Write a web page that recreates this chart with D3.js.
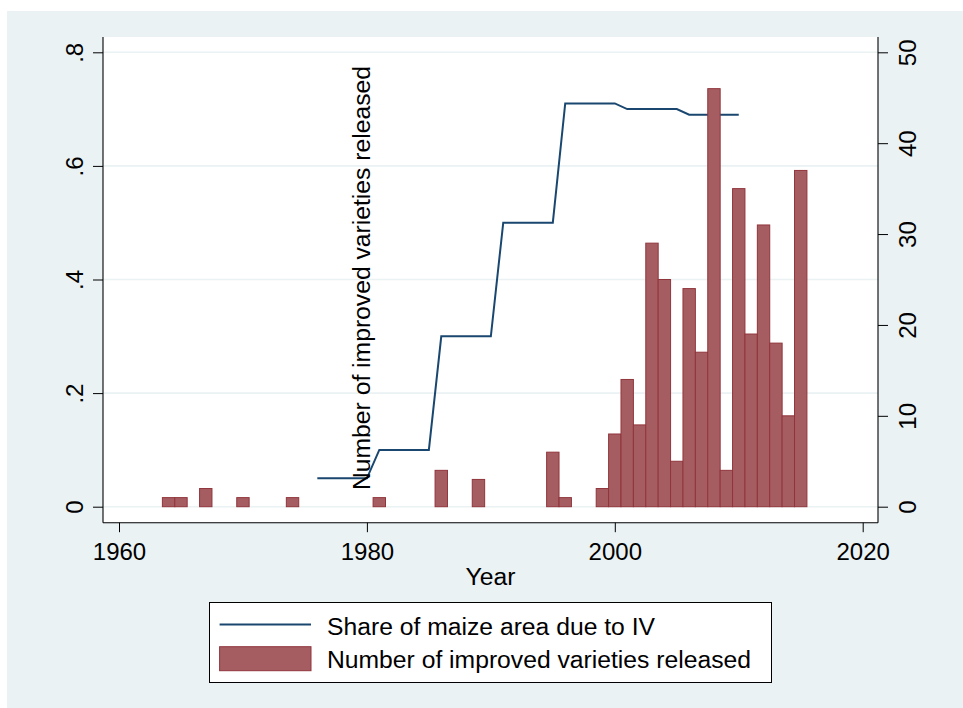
<!DOCTYPE html>
<html>
<head>
<meta charset="utf-8">
<script src="https://cdn.jsdelivr.net/npm/d3@7"></script>
<style>
  html, body { margin: 0; padding: 0; background: #ffffff; }
  svg { display: block; }
  text { font-family: "Liberation Sans", Arial, Helvetica, sans-serif; fill: #000; }
</style>
</head>
<body>
<div id="chart"></div>
<script>
// ---- Data ----
const barYears  = [1964, 1965, 1967, 1970, 1974, 1981, 1986, 1989, 1995, 1996,
                   1999, 2000, 2001, 2002, 2003, 2004, 2005, 2006, 2007, 2008,
                   2009, 2010, 2011, 2012, 2013, 2014, 2015];
const barCounts = [1, 1, 2, 1, 1, 1, 4, 3, 6, 1,
                   2, 8, 14, 9, 29, 25, 5, 24, 17, 46,
                   4, 35, 19, 31, 18, 10, 37];

const lineYears = [1976, 1977, 1978, 1979, 1980, 1981, 1982, 1983, 1984, 1985,
                   1986, 1987, 1988, 1989, 1990, 1991, 1992, 1993, 1994, 1995,
                   1996, 1997, 1998, 1999, 2000, 2001, 2002, 2003, 2004, 2005,
                   2006, 2007, 2008, 2009, 2010];
const lineShares = [0.05, 0.05, 0.05, 0.05, 0.05, 0.10, 0.10, 0.10, 0.10, 0.10,
                    0.30, 0.30, 0.30, 0.30, 0.30, 0.50, 0.50, 0.50, 0.50, 0.50,
                    0.71, 0.71, 0.71, 0.71, 0.71, 0.70, 0.70, 0.70, 0.70, 0.70,
                    0.69, 0.69, 0.69, 0.69, 0.69];

const xTicks = [1960, 1980, 2000, 2020];
const yLeftTicks = [0, 0.2, 0.4, 0.6, 0.8];
const yLeftLabels = ["0", ".2", ".4", ".6", ".8"];
const yRightTicks = [0, 10, 20, 30, 40, 50];

const xTitle = "Year";
const rightTitle = "Number of improved varieties released";
const legendLabels = ["Share of maize area due to IV", "Number of improved varieties released"];

// ---- Layout ----
const W = 963, H = 708;
const plot = { left: 103, right: 878, top: 37, bottom: 522.7 };
const navy = "#1a476f", barFill = "#a65d62", barStroke = "#90353b", bg = "#eaf2f3";
const bigFont = "24.7px";

const svg = d3.select("#chart").append("svg").attr("width", W).attr("height", H);

// outer graph region
svg.append("rect").attr("x", 0).attr("y", 0).attr("width", W).attr("height", H).attr("fill", "#ffffff");
svg.append("rect").attr("x", 7).attr("y", 11).attr("width", W - 7).attr("height", H - 11).attr("fill", bg);
// plot region
svg.append("rect").attr("x", plot.left).attr("y", plot.top)
  .attr("width", plot.right - plot.left).attr("height", plot.bottom - plot.top).attr("fill", "#ffffff");

// scales
const x = d3.scaleLinear().domain([1960, 2020]).range([119, 862.7]);
const yL = d3.scaleLinear().domain([0, 0.8]).range([506.7, 52.3]);
const yR = d3.scaleLinear().domain([0, 50]).range([506.7, 52.3]);

// gridlines
svg.append("g").selectAll("line").data(yLeftTicks).join("line")
  .attr("x1", plot.left).attr("x2", plot.right)
  .attr("y1", d => yL(d)).attr("y2", d => yL(d))
  .attr("stroke", bg).attr("stroke-width", 1.6);

// line series
const lineGen = d3.line().x(d => x(d[0])).y(d => yL(d[1]));
svg.append("path")
  .datum(lineYears.map((yr, i) => [yr, lineShares[i]]))
  .attr("d", lineGen).attr("fill", "none")
  .attr("stroke", navy).attr("stroke-width", 2);

// bars (drawn after the line, as in the reference)
const bw = x(1961) - x(1960);
svg.append("g").selectAll("rect").data(barYears.map((yr, i) => ({ yr, v: barCounts[i] }))).join("rect")
  .attr("x", d => x(d.yr) - bw / 2)
  .attr("width", bw)
  .attr("y", d => yR(d.v))
  .attr("height", d => yR(0) - yR(d.v))
  .attr("fill", barFill).attr("stroke", barStroke).attr("stroke-width", 1);

// axis lines (left, right, bottom)
const frame = svg.append("g").attr("stroke", "#000").attr("stroke-width", 1.1);
frame.append("line").attr("x1", plot.left).attr("x2", plot.left).attr("y1", plot.top).attr("y2", plot.bottom);
frame.append("line").attr("x1", plot.right).attr("x2", plot.right).attr("y1", plot.top).attr("y2", plot.bottom);
frame.append("line").attr("x1", plot.left).attr("x2", plot.right).attr("y1", plot.bottom).attr("y2", plot.bottom);

// left axis
const gL = svg.append("g").attr("transform", `translate(${plot.left},0)`)
  .call(d3.axisLeft(yL).tickValues(yLeftTicks).tickSize(10).tickSizeOuter(0)
    .tickFormat((d, i) => yLeftLabels[i]));
gL.select(".domain").remove();
gL.selectAll(".tick line").attr("stroke", "#000");
gL.selectAll(".tick text")
  .attr("x", null).attr("dy", null).attr("y", null)
  .attr("text-anchor", "middle")
  .attr("transform", "translate(-19.7,0) rotate(-90)")
  .style("font-size", "24px").style("font-family", "'Liberation Sans', Arial, sans-serif").attr("fill", "#000");

// right axis
const gR = svg.append("g").attr("transform", `translate(${plot.right},0)`)
  .call(d3.axisRight(yR).tickValues(yRightTicks).tickSize(10).tickSizeOuter(0).tickFormat(d3.format("d")));
gR.select(".domain").remove();
gR.selectAll(".tick line").attr("stroke", "#000");
gR.selectAll(".tick text")
  .attr("x", null).attr("dy", null).attr("y", null)
  .attr("text-anchor", "middle")
  .attr("transform", "translate(38,0) rotate(-90)")
  .style("font-size", "24px").style("font-family", "'Liberation Sans', Arial, sans-serif").attr("fill", "#000");

// bottom axis
const gB = svg.append("g").attr("transform", `translate(0,${plot.bottom})`)
  .call(d3.axisBottom(x).tickValues(xTicks).tickSize(9.5).tickSizeOuter(0).tickFormat(d3.format("d")));
gB.select(".domain").remove();
gB.selectAll(".tick line").attr("stroke", "#000");
gB.selectAll(".tick text")
  .attr("y", 37.3).attr("dy", null)
  .style("font-size", "24px").style("font-family", "'Liberation Sans', Arial, sans-serif").attr("fill", "#000");

// x title
svg.append("text").attr("x", (plot.left + plot.right) / 2).attr("y", 584.5)
  .attr("text-anchor", "middle").style("font-size", bigFont).text(xTitle);

// misplaced rotated title inside the plot
svg.append("text").attr("transform", "translate(369.5,278) rotate(-90)")
  .attr("text-anchor", "middle").style("font-size", bigFont).text(rightTitle);

// legend
const lg = svg.append("g");
lg.append("rect").attr("x", 209.5).attr("y", 602.5).attr("width", 562).attr("height", 80)
  .attr("fill", "#ffffff").attr("stroke", "#000").attr("stroke-width", 1);
lg.append("line").attr("x1", 219.6).attr("x2", 311).attr("y1", 624.5).attr("y2", 624.5)
  .attr("stroke", navy).attr("stroke-width", 2);
lg.append("rect").attr("x", 219.6).attr("y", 646.7).attr("width", 91.4).attr("height", 24)
  .attr("fill", barFill).attr("stroke", barStroke).attr("stroke-width", 1);
lg.selectAll("text.lab").data(legendLabels).join("text").attr("class", "lab")
  .attr("x", 327).attr("y", (d, i) => i === 0 ? 634.5 : 667.5)
  .style("font-size", bigFont).text(d => d);
</script>
</body>
</html>
